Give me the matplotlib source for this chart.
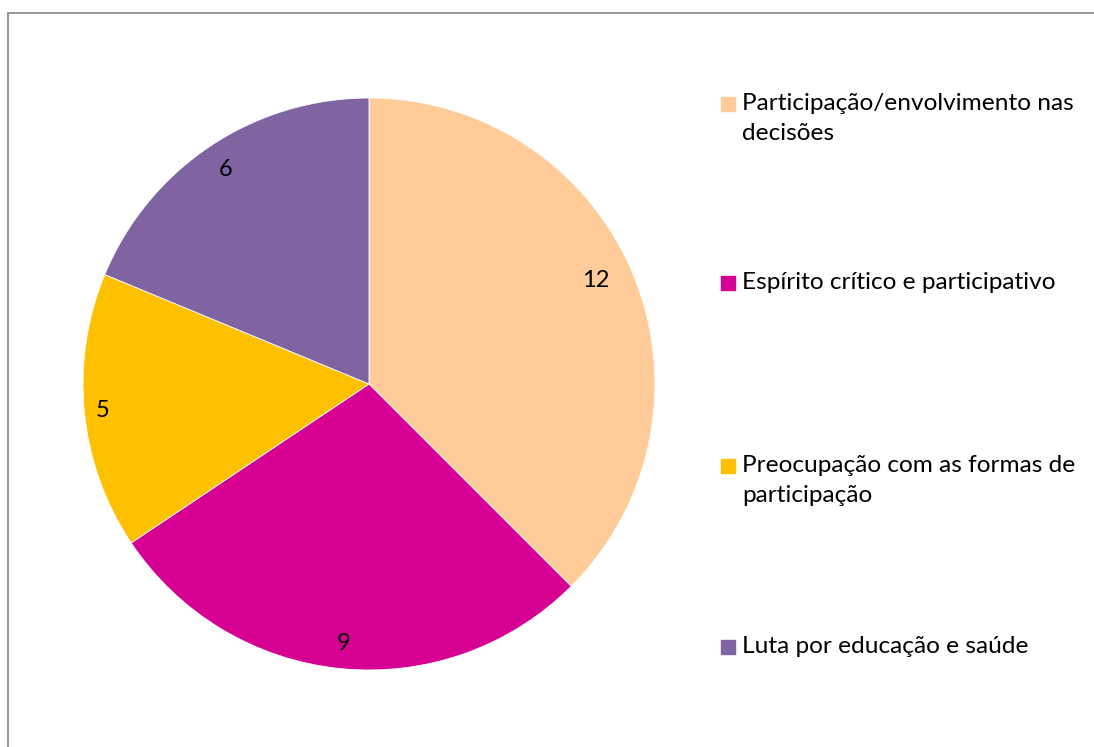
import numpy as np
import matplotlib.pyplot as plt
from matplotlib.patches import Rectangle

# Data
categories = [
    'Participação/envolvimento nas\ndecisões',
    'Espírito crítico e participativo',
    'Preocupação com as formas de\nparticipação',
    'Luta por educação e saúde',
]
values = [12, 9, 5, 6]
colors = ['#FFCC99', '#D60093', '#FFC000', '#8064A2']

W, H = 1094, 747


def fx(px):
    return px / W


def fy(py):
    return 1 - py / H


plt.rcParams['font.family'] = ['Lato', 'DejaVu Sans']

fig = plt.figure(figsize=(W / 100, H / 100), dpi=100)

# outer chart frame (cut off on the right and bottom like the original)
fig.patches.append(Rectangle((fx(8), fy(1000)), fx(1200), fy(13) - fy(1000),
                             transform=fig.transFigure, fill=False,
                             edgecolor='#8c8c8c', linewidth=1.3))

cx, cy, r = 369, 384, 286
ax = fig.add_axes([fx(cx - r), fy(cy + r), fx(2 * r), fy(cy - r) - fy(cy + r)])
wedges, texts = ax.pie(values, colors=colors, startangle=90, counterclock=False,
                       labels=[str(v) for v in values], labeldistance=0.9,
                       textprops={'fontsize': 17, 'color': 'black',
                                  'ha': 'center', 'va': 'center'},
                       wedgeprops={'edgecolor': 'white', 'linewidth': 0.6})
# excel nudges the data labels a bit, per slice
label_dist = [0.87, 0.91, 0.935, 0.9]
label_turn = [2.0, 0, 0, 0]
for w, t, d, k in zip(wedges, texts, label_dist, label_turn):
    a = np.deg2rad((w.theta1 + w.theta2) / 2 + k)
    t.set_position((d * np.cos(a), d * np.sin(a)))
ax.set_xlim(-1, 1)
ax.set_ylim(-1, 1)
ax.set_aspect('equal')
ax.axis('off')

# legend drawn by hand, Excel style
legend_y = [104, 283, 466, 647]
for label, col, ly in zip(categories, colors, legend_y):
    fig.patches.append(Rectangle((fx(721), fy(ly + 7)), fx(14), fy(ly - 7) - fy(ly + 7),
                                 transform=fig.transFigure, color=col))
    fig.text(fx(742), fy(ly - 11), label, fontsize=17.6, va='top', ha='left',
             linespacing=1.5, transform=fig.transFigure)

fig.savefig('out.png', dpi=100)
